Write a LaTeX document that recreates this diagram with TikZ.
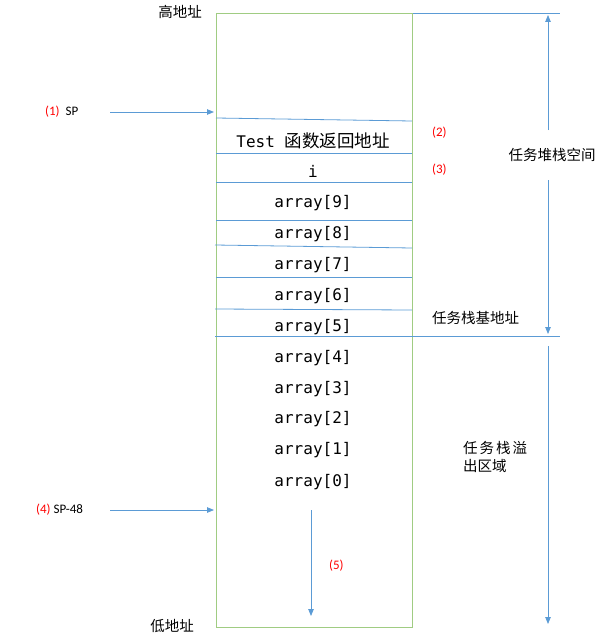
\documentclass[tikz,border=0pt]{standalone}
\usepackage{fontspec}
\setmainfont{Carlito}
\setmonofont{DejaVu Sans Mono}
\newfontfamily\cjk{Noto Sans CJK SC}
\usetikzlibrary{arrows.meta}
\definecolor{lineblue}{RGB}{91,155,213}
\definecolor{boxgreen}{RGB}{160,204,130}
\definecolor{tagred}{RGB}{255,0,0}

\begin{document}
\begin{tikzpicture}[
  x=1pt, y=-1pt,
  cell/.style={inner sep=0pt, font=\fontsize{16}{16}\selectfont\ttfamily},
  tag/.style={inner sep=0pt, anchor=west, font=\fontsize{13}{13}\selectfont},
  note/.style={inner sep=0pt, font=\fontsize{14.5}{18}\selectfont\cjk},
  sep/.style={draw=lineblue, line width=0.8pt},
  flow/.style={draw=lineblue, line width=0.8pt, -{Triangle[length=7pt, width=5.5pt]}}
]
\useasboundingbox (0,0) rectangle (610,642);

% stack frame
\node[draw=boxgreen, line width=1pt, minimum width=196pt, minimum height=614pt,
  inner sep=0pt, anchor=north west] (stack) at (216,13) {};
\node[note] (high) at (180,12) {高地址};
\node[note] (low) at (172,626) {低地址};

% slot borders
\draw[sep] (216,118) -- (412,121);
\draw[sep] (216,153) -- (412,153);
\draw[sep] (216,182) -- (412,182);
\draw[sep] (216,220) -- (412,220);
\draw[sep] (215,245) -- (412,248);
\draw[sep] (216,277) -- (412,277);
\draw[sep] (215,309) -- (412,310);
\draw[sep] (215,336) -- (560,336);
\draw[sep] (stack.north east) -- (560,13);

% slot contents
\node[cell] (ret) at (313,141) {Test {\cjk\fontsize{17.5}{17.5}\selectfont 函数返回地址}};
\node[cell] (vari) at (313,171) {i};
\node[cell] (a9) at (313,203) {array[9]};
\node[cell] (a8) at (313,234) {array[8]};
\node[cell] (a7) at (313,265) {array[7]};
\node[cell] (a6) at (313,296) {array[6]};
\node[cell] (a5) at (313,327) {array[5]};
\node[cell] (a4) at (313,358) {array[4]};
\node[cell] (a3) at (313,389) {array[3]};
\node[cell] (a2) at (313,419) {array[2]};
\node[cell] (a1) at (313,450) {array[1]};
\node[cell] (a0) at (313,482) {array[0]};

% step numbers
\node[tag, text=tagred] (n2) at (432,133) {(2)};
\node[tag, text=tagred] (n3) at (432,170) {(3)};
\node[tag, text=tagred] (n5) at (329,566) {(5)};

% stack pointer before and after
\node[tag] (sp) at (45,112) {\textcolor{tagred}{(1)}\hspace{6pt}SP};
\node[tag] (sp48) at (36,510) {\textcolor{tagred}{(4)} SP-48};
\coordinate (spFrom) at (110,112);
\coordinate (spTo) at (214,112);
\coordinate (sp48From) at (110,510);
\coordinate (sp48To) at (214,510);
\draw[flow] (spFrom) -- (spTo);
\draw[flow] (sp48From) -- (sp48To);

% growth direction
\coordinate (growTop) at (311,510);
\coordinate (growEnd) at (311,616);
\draw[flow] (growTop) -- (growEnd);

% regions on the right
\node[note] (space) at (552,155) {任务堆栈空间};
\node[note, anchor=west] (base) at (432,318) {任务栈基地址};
\node[note, anchor=north west, align=left] (over) at (463,441)
  {任\hspace{2pt}务\hspace{2pt}栈\hspace{2pt}溢\\出区域};
\coordinate (spaceUp) at (548,130);
\coordinate (spaceTop) at (548,15);
\coordinate (spaceDown) at (548,180);
\coordinate (spaceBot) at (548,334);
\coordinate (overTop) at (548,346);
\coordinate (overBot) at (548,624);
\draw[flow] (spaceUp) -- (spaceTop);
\draw[flow] (spaceDown) -- (spaceBot);
\draw[flow] (overTop) -- (overBot);
\end{tikzpicture}
\end{document}
